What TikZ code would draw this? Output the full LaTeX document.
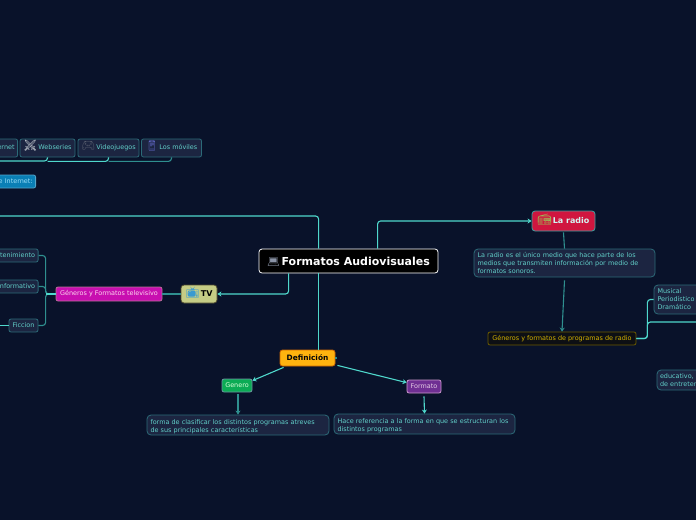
\documentclass[tikz,border=0pt]{standalone}
\usepackage{fontspec}
\setmainfont{DejaVu Sans}
\newfontfamily\emo{Noto Emoji}
\usetikzlibrary{arrows.meta}
\definecolor{bgc}{HTML}{09122A}
\definecolor{linec}{HTML}{4FD8CC}
\definecolor{dimc}{HTML}{2F8F8F}
\definecolor{boxf}{HTML}{1C2541}
\definecolor{boxd}{HTML}{2C6A78}
\definecolor{txtc}{HTML}{62CFC9}
\definecolor{radioc}{HTML}{D0163F}
\definecolor{tvc}{HTML}{C5CC85}
\definecolor{tvgenc}{HTML}{C80FB0}
\definecolor{defc}{HTML}{FFB30F}
\definecolor{genc}{HTML}{0BAB55}
\definecolor{forc}{HTML}{6F2F93}
\definecolor{netc}{HTML}{0A7FB5}
\definecolor{radgenc}{HTML}{0D0F14}
\definecolor{radgent}{HTML}{D6B400}
\newcommand{\ico}[3]{{\emo\fontsize{#1}{#1}\selectfont\color[HTML]{#2}#3}}
\tikzset{
  x=1pt,y=-1pt,
  mapbox/.style={draw=boxd,fill=boxf,line width=.8pt,rounded corners=2.5pt,inner sep=0pt,text=txtc,font=\fontsize{6.45}{8}\selectfont,anchor=center},
  smallbox/.style={mapbox,rounded corners=2pt,text height=4.6pt,text depth=1pt},
  endbox/.style={smallbox,align=right,text width=#1},
  descbox/.style={mapbox,rounded corners=4pt,align=left},
  twoline/.style={descbox,text height=5pt,text depth=6.5pt},
  conn/.style={draw=linec,line width=1.1pt,rounded corners=3pt},
  dimconn/.style={conn,draw=dimc},
  arrowconn/.style={conn,-{Stealth[length=4pt,width=5pt]}},
  boxw/.style={minimum width=#1},
  boxh/.style={minimum height=#1},
}
\begin{document}
\begin{tikzpicture}
\useasboundingbox (0,0) rectangle (696,520);
\clip (0,0) rectangle (696,520);
\fill[bgc] (0,0) rectangle (696,520);
% central node
\node[mapbox,draw=white,fill=black,text=white,rounded corners=3pt,boxw=179pt,boxh=24pt,text height=8pt,text depth=0pt,font=\fontsize{11}{13}\bfseries\selectfont] (root) at (348.5,261) {\ico{10}{8A93A6}{💻}\,Formatos Audiovisuales};
% radio branch
\node[mapbox,fill=radioc,draw=boxd!50!linec,rounded corners=3pt,boxw=63pt,boxh=20pt,text height=5.8pt,text depth=0pt,text=white!75!linec,font=\fontsize{8}{9}\bfseries\selectfont] (radio) at (563.5,221) {\ico{11}{9DBB55}{📻}\,La radio};
\node[descbox,boxw=181pt,boxh=28pt,text width=174pt] (radiodesc) at (564.5,263) {La radio es el único medio que hace parte de los\\medios que transmiten información por medio de\\formatos sonoros.};
\node[smallbox,fill=radgenc,draw=radgent!50!black,text=radgent,boxw=148pt,boxh=13pt] (radiogen) at (562,338.5) {Géneros y formatos de programas de radio};
\node[descbox,boxw=60pt,boxh=29pt,text width=53pt] (musical) at (684,299.5) {Musical\\Periodístico\\Dramático};
\node[descbox,boxw=90pt,boxh=20pt,text width=84pt] (educativo) at (702,380) {educativo,\\de entretenimiento};
% definition branch
\node[mapbox,fill=defc,draw=orange!80!black,text=black!80!bgc,boxw=55pt,boxh=16pt,text height=5.4pt,text depth=0pt,font=\fontsize{7.4}{8}\bfseries\selectfont] (def) at (307.5,358) {Definición};
\node[smallbox,fill=genc,draw=boxd!70!white,text=white!85!green,boxw=30pt,boxh=13pt] (genero) at (237,385.5) {Genero};
\node[smallbox,fill=forc,draw=violet!40!white,text=white!80!violet,boxw=34pt,boxh=13pt] (formato) at (424,386.5) {Formato};
\node[twoline,boxw=182pt,boxh=20pt,text width=175pt] (generodesc) at (238,425) {forma de clasificar los distintos programas atreves\\de sus principales características};
\node[twoline,boxw=181pt,boxh=20pt,text width=174pt] (formatodesc) at (424.5,424) {Hace referencia a la forma en que se estructuran los\\distintos programas};
% tv branch
\node[mapbox,fill=tvc,draw=black!60!olive,text=black,rounded corners=3pt,boxw=36pt,boxh=18pt,text height=5.8pt,text depth=0pt,font=\fontsize{8}{9}\bfseries\selectfont] (tv) at (199,294) {\ico{11}{3A9AD0}{📺}\,TV};
\node[smallbox,fill=tvgenc,draw=magenta!40!gray,text=white!85!magenta,boxw=106pt,boxh=14pt] (tvgen) at (109,294) {Géneros y Formatos televisivo};
\node[endbox=72pt,boxw=78pt,boxh=13pt,anchor=east] (entre) at (38.5,255.5) {Entretenimiento};
\node[endbox=64pt,boxw=70pt,boxh=13pt,anchor=east] (info) at (38.5,286.5) {Informativo};
\node[smallbox,boxw=29pt,boxh=13pt] (ficcion) at (23.5,325.5) {Ficcion};
% top row
\node[endbox=44pt,boxw=50pt,boxh=18pt,anchor=east] (internet) at (18,148) {Internet};
\node[smallbox,boxw=55pt,boxh=18pt] (webseries) at (47.5,148) {\ico{11}{C5CBD2}{⚔}\,Webseries};
\node[smallbox,boxw=61pt,boxh=18pt] (videojuegos) at (108.5,148) {\ico{11}{5A6070}{🎮}\,Videojuegos};
\node[smallbox,boxw=60pt,boxh=18pt] (moviles) at (171.5,148) {\ico{10}{6A70D8}{📱}\,Los móviles};
\node[endbox=84pt,fill=netc,draw=netc!70!white,text=cyan!40!white,boxw=90pt,boxh=13pt,anchor=east] (deinternet) at (36,181.5) {Formatos de Internet:};
% free ends
\coordinate (leftA) at (0,216);
\coordinate (leftB) at (0,161);
\coordinate (leftC) at (0,325.5);
\coordinate (rightA) at (696,322);
\coordinate (rootN) at ([xshift=60pt]root.north west);
\coordinate (rootS) at ([xshift=60pt]root.south west);
\coordinate (rootR) at ([xshift=119pt]root.north west);
\coordinate (rootT) at ([xshift=30pt]root.south west);
% root connectors
\draw[conn] (rootN) |- (leftA);
\draw[conn] (rootS) -- (rootS |- def.north);
\draw[arrowconn] (rootR) |- (radio.west);
\draw[arrowconn] (rootT) |- (tv.east);
% radio
\draw[dimconn] ([yshift=-1pt]radio.south) -- (radiodesc.north);
\draw[arrowconn,draw=dimc] ([yshift=-3pt]radiodesc.south) -- (radiogen.north);
\draw[conn] (radiogen.east) -- ++(11,0) |- (musical.west);
\draw[conn] (radiogen.east) -- ++(11,0) |- (rightA);
% definition
\draw[arrowconn] ([xshift=4pt,yshift=-1pt]def.south west) -- ([yshift=-2pt]genero.north east);
\draw[arrowconn] ([xshift=2pt,yshift=1pt]def.south east) -- ([yshift=-3pt]formato.north west);
\draw[dimconn] (def.east) -- ++(2,0);
\draw[arrowconn,draw=dimc] ([xshift=1pt,yshift=-2pt]genero.south) -- (generodesc.north);
\draw[arrowconn] ([yshift=-3pt]formato.south) -- (formatodesc.north);
% tv
\draw[dimconn] (tv.west) -- (tvgen.east);
\draw[dimconn] (tvgen.west) -- ++(-10,0) |- (entre.east);
\draw[dimconn] (tvgen.west) -- ++(-10,0) |- (ficcion.east);
\draw[dimconn] (tvgen.west) -- ++(-10,0) |- (info.east);
\draw[conn] (tvgen.west) -- ++(-10,0);
\draw[conn] (ficcion.west) -- (leftC);
% top row
\draw[conn] (webseries.south) |- (leftB);
\draw[conn] (webseries.south) ++(0,4) -- ++(61,0) -- (videojuegos.south);
\draw[dimconn] (videojuegos.south) ++(0,4) -- ++(63,0) -- (moviles.south);
\end{tikzpicture}
\end{document}
